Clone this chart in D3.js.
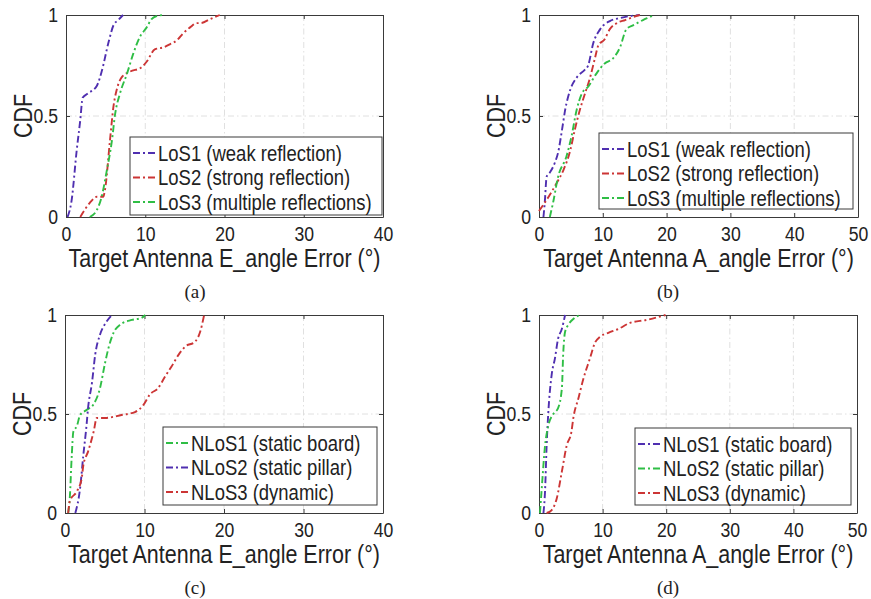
<!DOCTYPE html>
<html>
<head>
<meta charset="UTF-8">
<title>cdf_panels</title>
<script src="https://cdn.jsdelivr.net/npm/d3@7"></script>
<style>
  body { margin: 0; background: #fff; }
  text { font-family: "Liberation Sans", Arial, sans-serif; fill: #222; }
  .caption { font-family: "Liberation Serif", "Times New Roman", serif; font-size: 19px; }
</style>
</head>
<body>
<div id="chart"></div>
<script>
// ---- data ----
var yTicks = [0, 0.5, 1];
var yTickLabels = ["0", "0.5", "1"];
var xTicksE = [0, 10, 20, 30, 40];
var xTicksA = [0, 10, 20, 30, 40, 50];
var xLabelE = "Target Antenna E_angle Error (°)";
var xLabelA = "Target Antenna A_angle Error (°)";
var captions = ["(a)", "(b)", "(c)", "(d)"];

var losNames = ["LoS1 (weak reflection)", "LoS2 (strong reflection)", "LoS3 (multiple reflections)"];
var nlosNames = ["NLoS1 (static board)", "NLoS2 (static pillar)", "NLoS3 (dynamic)"];

// (a) E_angle, LoS
var aLoS1X = [0.2, 0.7, 1.35, 1.8, 2.1, 2.7, 3.9, 4.5, 5.4, 6.0, 6.6, 7.2];
var aLoS1Y = [0, 0.08, 0.33, 0.48, 0.59, 0.61, 0.65, 0.72, 0.87, 0.95, 0.975, 1];
var aLoS2X = [1.8, 3.0, 3.9, 4.7, 4.9, 5.55, 6.0, 6.4, 7.0, 8.1, 9.5, 10.2, 11.2, 12.3, 13.1, 14.0, 14.8, 15.7, 16.5, 17.0, 18.2, 19.4];
var aLoS2Y = [0, 0.07, 0.1, 0.1, 0.13, 0.38, 0.55, 0.63, 0.69, 0.72, 0.74, 0.77, 0.83, 0.84, 0.855, 0.875, 0.91, 0.94, 0.96, 0.96, 0.98, 1];
var aLoS3X = [3.0, 3.9, 4.5, 5.1, 5.8, 6.2, 6.8, 7.7, 8.5, 9.3, 10.2, 10.8, 11.5, 12.3];
var aLoS3Y = [0, 0.035, 0.1, 0.22, 0.38, 0.51, 0.61, 0.71, 0.81, 0.89, 0.94, 0.98, 0.995, 1];

// (b) A_angle, LoS
var bLoS1X = [0.7, 0.9, 1.2, 1.7, 2.5, 3.0, 3.6, 4.1, 4.9, 5.9, 7.2, 7.7, 8.5, 9.6, 11.1, 12.7, 14.3, 15.8];
var bLoS1Y = [0, 0.07, 0.2, 0.22, 0.27, 0.32, 0.43, 0.53, 0.63, 0.69, 0.73, 0.75, 0.86, 0.93, 0.97, 0.985, 0.995, 1];
var bLoS2X = [0, 1.7, 2.8, 3.8, 4.9, 5.6, 6.4, 7.2, 8.0, 8.8, 9.3, 10.3, 11.1, 12.2, 13.5, 14.8, 15.8];
var bLoS2Y = [0.03, 0.11, 0.17, 0.23, 0.33, 0.43, 0.53, 0.61, 0.69, 0.79, 0.85, 0.88, 0.93, 0.96, 0.975, 0.99, 1];
var bLoS3X = [1.7, 2.2, 3.0, 4.3, 5.1, 5.9, 6.7, 7.7, 9.0, 10.3, 11.6, 12.7, 13.7, 14.8, 16.3, 17.7, 18.0];
var bLoS3Y = [0, 0.07, 0.2, 0.3, 0.4, 0.53, 0.61, 0.645, 0.71, 0.76, 0.785, 0.84, 0.93, 0.95, 0.975, 0.995, 1];

// (c) E_angle, NLoS
var cNLoS1X = [0.4, 0.6, 0.85, 1.05, 1.5, 1.9, 2.7, 3.6, 4.4, 5.0, 5.45, 6.1, 6.9, 8.4, 9.6, 10.1];
var cNLoS1Y = [0, 0.075, 0.29, 0.41, 0.44, 0.495, 0.52, 0.55, 0.63, 0.75, 0.83, 0.91, 0.95, 0.975, 0.985, 1];
var cNLoS2X = [1.3, 1.9, 2.3, 2.7, 2.9, 3.4, 3.8, 4.4, 5.2, 5.9];
var cNLoS2Y = [0, 0.125, 0.29, 0.44, 0.53, 0.66, 0.8, 0.9, 0.965, 1];
var cNLoS3X = [0.4, 0.6, 1.5, 2.1, 2.3, 2.9, 3.6, 4.0, 5.0, 7.1, 8.8, 9.85, 10.7, 11.7, 12.6, 13.4, 14.3, 15.1, 16.35, 17.0, 17.5];
var cNLoS3Y = [0, 0.06, 0.11, 0.175, 0.24, 0.31, 0.41, 0.48, 0.48, 0.495, 0.51, 0.545, 0.6, 0.63, 0.69, 0.74, 0.8, 0.84, 0.865, 0.915, 1];

// (d) A_angle, NLoS
var dNLoS1X = [0.7, 0.95, 1.2, 1.45, 2.0, 2.5, 3.0, 3.6, 4.1];
var dNLoS1Y = [0, 0.11, 0.34, 0.5, 0.7, 0.78, 0.88, 0.93, 1];
var dNLoS2X = [0.15, 0.4, 0.95, 1.45, 2.25, 3.0, 3.6, 3.8, 4.1, 4.6, 5.4, 6.4];
var dNLoS2Y = [0, 0.11, 0.34, 0.44, 0.5, 0.53, 0.63, 0.8, 0.915, 0.95, 0.98, 1];
var dNLoS3X = [1.2, 2.0, 2.8, 3.6, 4.35, 5.1, 5.4, 6.2, 7.0, 8.0, 8.8, 9.6, 10.9, 12.5, 14.3, 16.9, 19.9];
var dNLoS3Y = [0, 0.015, 0.075, 0.21, 0.34, 0.41, 0.48, 0.58, 0.68, 0.78, 0.86, 0.89, 0.91, 0.93, 0.96, 0.975, 1];

var blue = "#4f2fb0", red = "#cc3535", green = "#2fbe45";
var dash = "7,3,2,3";
var K = 0.86; // the original lettering is narrower than its height

var svg = d3.select("#chart").append("svg")
    .attr("width", 871).attr("height", 599);

function pts(xs, ys) { return xs.map(function (x, i) { return [x, ys[i]]; }); }

// place a horizontally condensed text at (x, y)
function label(parent, x, y, str, size, anchor, rot) {
    return parent.append("text")
        .attr("transform", "translate(" + x + "," + y + ")" + (rot ? " rotate(-90)" : "") + " scale(" + K + ",1)")
        .attr("text-anchor", anchor).attr("font-size", size).text(str);
}

function drawPanel(p) {
    var x = d3.scaleLinear().domain([0, p.xMax]).range([p.left, p.right]);
    var y = d3.scaleLinear().domain([0, 1]).range([p.bottom, p.top]);
    var g = svg.append("g");

    // grid
    g.selectAll("line.gx").data(p.xTicks.slice(1, -1)).enter().append("line")
        .attr("x1", function (d) { return x(d); }).attr("x2", function (d) { return x(d); })
        .attr("y1", p.top).attr("y2", p.bottom)
        .attr("stroke", "#d8d8d8").attr("stroke-width", 0.8).attr("stroke-dasharray", "6,3,1.5,3");
    g.append("line")
        .attr("x1", p.left).attr("x2", p.right).attr("y1", y(0.5)).attr("y2", y(0.5))
        .attr("stroke", "#d8d8d8").attr("stroke-width", 0.8).attr("stroke-dasharray", "6,3,1.5,3");

    // axes (inward ticks, box)
    var axB = d3.axisBottom(x).tickValues(p.xTicks).tickSizeInner(-4).tickSizeOuter(0).tickPadding(9);
    var axT = d3.axisTop(x).tickValues(p.xTicks).tickSizeInner(-4).tickSizeOuter(0).tickFormat("");
    var axL = d3.axisLeft(y).tickValues(yTicks).tickSizeInner(-4).tickSizeOuter(0).tickPadding(8)
        .tickFormat(function (d, i) { return yTickLabels[i]; });
    var axR = d3.axisRight(y).tickValues(yTicks).tickSizeInner(-4).tickSizeOuter(0).tickFormat("");
    [[axB, "translate(0," + p.bottom + ")"], [axT, "translate(0," + p.top + ")"],
     [axL, "translate(" + p.left + ",0)"], [axR, "translate(" + p.right + ",0)"]].forEach(function (a) {
        var ag = g.append("g").attr("transform", a[1]).call(a[0]);
        ag.select(".domain").attr("stroke", "#3a3a3a").attr("stroke-width", 1);
        ag.selectAll(".tick line").attr("stroke", "#3a3a3a");
        ag.selectAll("text").attr("font-size", 20.5).attr("fill", "#222")
            .attr("font-family", "Liberation Sans, Arial, sans-serif")
            .attr("transform", "scale(" + K + ",1)")
            .attr("x", function () { var v = +d3.select(this).attr("x") || 0; return v / K; });
    });

    // axis labels
    label(g, (p.left + p.right) / 2, p.bottom + 50, p.xLabel, 25, "middle", false);
    label(g, p.left - 34, (p.top + p.bottom) / 2, "CDF", 25, "middle", true);

    // curves
    var line = d3.line().x(function (d) { return x(d[0]); }).y(function (d) { return y(d[1]); })
        .curve(d3.curveMonotoneX);
    p.series.forEach(function (s) {
        g.append("path").attr("d", line(pts(s.xs, s.ys)))
            .attr("fill", "none").attr("stroke", s.color).attr("stroke-width", 1.9)
            .attr("stroke-dasharray", dash);
    });

    // legend
    var lg = g.append("g");
    lg.append("rect").attr("x", p.leg[0]).attr("y", p.leg[1]).attr("width", p.leg[2]).attr("height", p.leg[3])
        .attr("fill", "#fff").attr("stroke", "#3a3a3a").attr("stroke-width", 1);
    p.series.forEach(function (s, i) {
        var cy = p.leg[1] + 16 + i * 24.5;
        lg.append("line").attr("x1", p.leg[0] + 3).attr("x2", p.leg[0] + 27).attr("y1", cy).attr("y2", cy)
            .attr("stroke", s.color).attr("stroke-width", 1.9).attr("stroke-dasharray", dash);
        label(lg, p.leg[0] + 28, cy + 7.5, s.name, 21.5, "start", false);
    });

    svg.append("text").attr("class", "caption").attr("x", p.capX).attr("y", p.capY)
        .attr("text-anchor", "middle").text(p.caption);
}

var panels = [
    { left: 66, right: 383, top: 15, bottom: 217, xMax: 40, xTicks: xTicksE, xLabel: xLabelE,
      leg: [130, 137, 252, 78], caption: captions[0], capX: 195, capY: 298,
      series: [{ xs: aLoS1X, ys: aLoS1Y, color: blue, name: losNames[0] },
               { xs: aLoS2X, ys: aLoS2Y, color: red, name: losNames[1] },
               { xs: aLoS3X, ys: aLoS3Y, color: green, name: losNames[2] }] },
    { left: 539, right: 858, top: 15, bottom: 217, xMax: 50, xTicks: xTicksA, xLabel: xLabelA,
      leg: [599, 133, 254, 76], caption: captions[1], capX: 668, capY: 298,
      series: [{ xs: bLoS1X, ys: bLoS1Y, color: blue, name: losNames[0] },
               { xs: bLoS2X, ys: bLoS2Y, color: red, name: losNames[1] },
               { xs: bLoS3X, ys: bLoS3Y, color: green, name: losNames[2] }] },
    { left: 65, right: 383, top: 315, bottom: 513, xMax: 40, xTicks: xTicksE, xLabel: xLabelE,
      leg: [163, 427, 214, 78], caption: captions[2], capX: 195, capY: 594,
      series: [{ xs: cNLoS1X, ys: cNLoS1Y, color: green, name: nlosNames[0] },
               { xs: cNLoS2X, ys: cNLoS2Y, color: blue, name: nlosNames[1] },
               { xs: cNLoS3X, ys: cNLoS3Y, color: red, name: nlosNames[2] }] },
    { left: 539, right: 857, top: 315, bottom: 513, xMax: 50, xTicks: xTicksA, xLabel: xLabelA,
      leg: [635, 428, 216, 77], caption: captions[3], capX: 668, capY: 594,
      series: [{ xs: dNLoS1X, ys: dNLoS1Y, color: blue, name: nlosNames[0] },
               { xs: dNLoS2X, ys: dNLoS2Y, color: green, name: nlosNames[1] },
               { xs: dNLoS3X, ys: dNLoS3Y, color: red, name: nlosNames[2] }] }
];

panels.forEach(drawPanel);
</script>
</body>
</html>
